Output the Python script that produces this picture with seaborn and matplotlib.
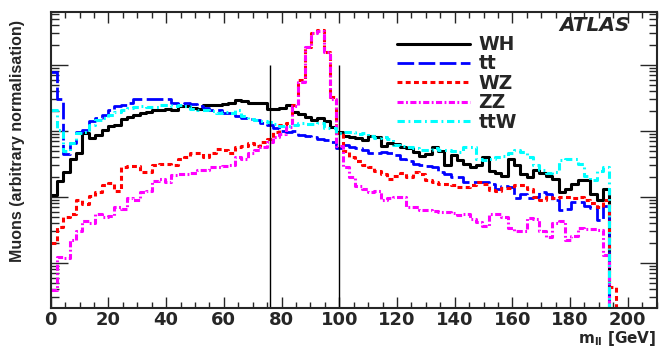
import numpy as np
import pandas as pd
import matplotlib
matplotlib.use("Agg")
import matplotlib.pyplot as plt
import seaborn as sns
from matplotlib.ticker import MultipleLocator, LogLocator, NullFormatter

# ---------------- data ----------------
bin_width = 2.2
n_bins = 96
edges = [round(i * bin_width, 3) for i in range(n_bins + 1)]
centers = [(edges[i] + edges[i + 1]) / 2 for i in range(n_bins)]

series_names = ["WH", "tt", "WZ", "ZZ", "ttW"]

wh = [10.7, 17.7, 24, 37, 47, 92, 77, 87, 104, 120,
      123, 150, 165, 175, 185, 195, 205, 210, 215, 208,
      235, 240, 220, 215, 245, 250, 245, 255, 270, 290,
      280, 265, 265, 262, 218, 215, 220, 250, 195, 180,
      165, 147, 157, 140, 115, 95, 84, 80, 79, 73,
      83, 80, 60, 65, 64, 58, 55, 48, 42, 45,
      58, 50, 30, 43, 36, 32, 28, 31, 40, 25,
      23, 21, 37, 30, 22, 20, 26, 23, 21, 19,
      12, 13, 16, 18, 18, 11, 9, 13,
      0, 0, 0, 0, 0, 0, 0, 0]

tt = [790, 310, 45, 65, 95, 105, 140, 160, 175, 210,
      235, 245, 270, 300, 310, 305, 300, 310, 300, 270,
      258, 262, 255, 235, 225, 210, 205, 190, 185, 170,
      160, 150, 145, 132, 123, 110, 100, 98, 100, 87,
      83, 82, 75, 72, 68, 55, 62, 58, 55, 51,
      47, 46, 48, 47, 43, 38, 35, 32, 30, 29,
      28, 24, 22, 20, 20, 17, 17, 17, 17, 16,
      13, 14.5, 14, 9.5, 11, 9.5, 10, 12, 11, 9,
      6.3, 6.5, 8.5, 8.5, 7.2, 6.8, 4.5, 7.4,
      0, 0, 0, 0, 0, 0, 0, 0]

wz = [2.0, 3.5, 5.0, 5.5, 9.0, 7.8, 10.2, 12, 15, 16.5,
      12.5, 28, 29, 29, 23.5, 24, 31, 32, 32, 30,
      38, 40, 46, 46, 40, 47, 53, 52, 46, 57,
      60, 65, 60, 69, 75, 98, 123, 130, 250, 590,
      1900, 3000, 3400, 1600, 330, 92, 50, 40, 35, 30,
      28, 25, 22, 19, 21, 23, 20, 24, 22, 18,
      17, 16, 16, 15, 14.3, 14.3, 15, 17, 16, 12.8,
      12.5, 13.5, 13.5, 15, 15, 13, 10, 9, 10, 9.5,
      10, 10, 9.5, 10, 9, 8, 7, 9, 0.44,
      0, 0, 0, 0, 0, 0, 0]

zz = [0.39, 1.25, 1.2, 2.2, 3.0, 4.4, 4.0, 5.5, 5.0, 5.2,
      7.0, 6.5, 9.5, 9.0, 12, 12.5, 17.5, 18.5, 17, 21.5,
      22, 22, 23, 25.7, 26, 28.8, 28, 29, 30, 40,
      38, 46, 52, 58, 69, 82, 90, 115, 240, 560,
      1850, 3100, 3300, 1550, 300, 60, 28, 20, 14.5, 13,
      12, 12.5, 9, 9.5, 10, 10, 7.1, 7.0, 6.3, 6.4,
      6.2, 6.0, 6.0, 5.8, 5.3, 5.5, 4.6, 4.2, 3.6, 5.5,
      5.6, 5.0, 3.4, 3.0, 3.1, 4.8, 4.6, 3.0, 2.5, 4.0,
      4.4, 2.2, 2.6, 3.4, 3.3, 3.3, 3.2, 1.3,
      0, 0, 0, 0, 0, 0, 0, 0]

ttw = [208, 104, 50, 65, 92, 98, 125, 147, 155, 175,
       196, 208, 225, 232, 235, 230, 228, 245, 248, 240,
       248, 235, 215, 208, 205, 200, 190, 195, 185, 210,
       170, 150, 147, 140, 135, 128, 120, 118, 122, 130,
       128, 126, 130, 112, 110, 92, 98, 95, 90, 92,
       85, 78, 80, 76, 62, 60, 57, 55, 52, 52,
       55, 51, 51, 50, 48, 58, 58, 38, 36, 37,
       40, 42, 46, 52, 48, 40, 30, 26, 23, 24,
       36, 38, 37, 32, 21, 18, 25, 28,
       0, 0, 0, 0, 0, 0, 0, 0]

cut_lines = [76, 100]
cut_line_top = 1000

x_ticks_major = 20
x_ticks_minor = 5
x_range = (0, 210)
y_range = (0.208, 6350)

# ---------------- style ----------------
sns.set_style("ticks")
plt.rcParams["font.family"] = ["DejaVu Sans"]
plt.rcParams["font.weight"] = "bold"
plt.rcParams["mathtext.default"] = "bf"

styles = {
    "WH":  dict(color="#000000", linestyle="-", linewidth=2.2),
    "tt":  dict(color="#0000ff", linewidth=2.0, dashes=(6.0, 1.6)),
    "WZ":  dict(color="#ff0000", linewidth=2.2, dashes=(1.6, 1.1)),
    "ZZ":  dict(color="#ff00ff", linewidth=2.2, dashes=(2.0, 0.8, 0.6, 0.8)),
    "ttW": dict(color="#00ffff", linewidth=2.2, dashes=(2.4, 1.2, 0.6, 1.2)),
}

fig = plt.figure(figsize=(6.64, 3.48), dpi=100)
ax = fig.add_axes([0.0764, 0.115, 0.9125, 0.8505])

handles = []
for name, vals in zip(series_names, [wh, tt, wz, zz, ttw]):
    df = pd.DataFrame({"mll": centers, "w": vals})
    sty = dict(styles[name])
    dashes = sty.pop("dashes", None)
    sns.histplot(data=df, x="mll", weights="w", bins=edges, element="step",
                 fill=False, ax=ax, **sty)
    line = ax.lines[-1]
    if dashes is not None:
        line.set_dashes(dashes)
    line.set_label(name)
    handles.append(line)

ax.set_yscale("log")
ax.set_xlim(*x_range)
ax.set_ylim(*y_range)

ax.vlines(cut_lines, y_range[0], cut_line_top, color="black", linewidth=1.0)

ax.xaxis.set_major_locator(MultipleLocator(x_ticks_major))
ax.xaxis.set_minor_locator(MultipleLocator(x_ticks_minor))
ax.yaxis.set_major_locator(LogLocator(base=10, numticks=20))
ax.yaxis.set_minor_locator(LogLocator(base=10, subs=np.arange(2, 10), numticks=100))
ax.yaxis.set_major_formatter(NullFormatter())
ax.yaxis.set_minor_formatter(NullFormatter())

ax.tick_params(which="both", direction="in", top=True, right=True, width=1.0)
ax.tick_params(axis="x", which="major", length=8, labelsize=13, pad=2)
ax.tick_params(axis="x", which="minor", length=4)
ax.tick_params(axis="y", which="major", length=12)
ax.tick_params(axis="y", which="minor", length=6)
for lab in ax.get_xticklabels():
    lab.set_fontweight("bold")
for sp in ax.spines.values():
    sp.set_linewidth(1.5)

ax.set_xlabel("")
ax.set_ylabel("")
fig.text(0.027, 0.943, "Muons (arbitrary normalisation)", rotation=90,
         ha="center", va="top", fontsize=11.5, fontweight="bold",
         family=["Liberation Sans", "DejaVu Sans"])
fig.text(0.989, 0.0, "$m_{ll}$ [GeV]", ha="right", va="bottom",
         fontsize=11, fontweight="bold")

ax.text(0.956, 0.985, "ATLAS", transform=ax.transAxes, ha="right", va="top",
        fontsize=14.5, fontweight="bold", fontstyle="italic")

leg = ax.legend(handles=handles, loc="upper left",
                bbox_to_anchor=(0.5716, 0.922), frameon=False,
                fontsize=13.5, handlelength=3.9, handletextpad=0.45,
                labelspacing=0.02, borderpad=0, borderaxespad=0)
for t in leg.get_texts():
    t.set_fontweight("bold")

fig.savefig("out.png", dpi=100)
